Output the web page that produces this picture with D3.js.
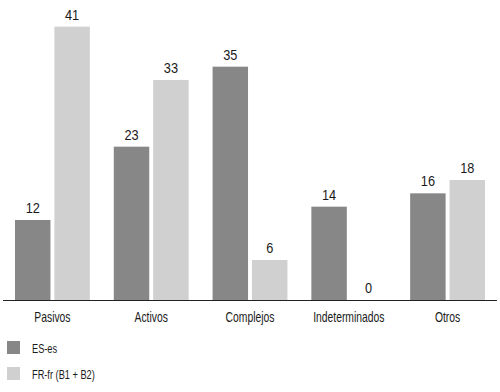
<!DOCTYPE html>
<html><head><meta charset="utf-8">
<script src="https://cdn.jsdelivr.net/npm/d3@7"></script>
<style>body{margin:0;background:#fff}svg{display:block}text{font-family:"Liberation Sans",Arial,sans-serif;fill:#1a1a1a}</style>
</head><body><svg id="c" width="500" height="392"></svg>
<script>
const categories = ["Pasivos","Activos","Complejos","Indeterminados","Otros"];
const seriesNames = ["ES-es","FR-fr (B1 + B2)"];
const esValues = [12,23,35,14,16];
const frValues = [41,33,6,0,18];
const colors = ["#878787","#d0d0d1"];

const svg = d3.select("#c");
const x0 = d3.scaleBand().domain(categories).range([15,485]).paddingInner(0.2424).paddingOuter(0);
const x1 = d3.scaleBand().domain([0,1]).range([0,x0.bandwidth()]).paddingInner(0.1);
const y = d3.scaleLinear().domain([0,45]).range([300,0]);
const series = [esValues, frValues];

function ctext(parent, x, yy, sx, size, anchor, str){
  parent.append("g").attr("transform",`translate(${x},${yy}) scale(${sx},1)`)
    .append("text").attr("text-anchor",anchor).attr("font-size",size).text(str);
}

const g = svg.append("g");
categories.forEach((c,i)=>{
  series.forEach((vals,s)=>{
    const v = vals[i];
    const bx = x0(c)+x1(s);
    g.append("rect").attr("x",bx).attr("y",y(v)).attr("width",x1.bandwidth()).attr("height",y(0)-y(v)).attr("fill",colors[s]);
    ctext(g, bx+x1.bandwidth()/2, y(v)-7, 0.88, 14.5, "middle", v);
  });
});
svg.append("line").attr("x1",3).attr("x2",497).attr("y1",y(0)+0.5).attr("y2",y(0)+0.5).attr("stroke","#222").attr("stroke-width",1.2);
categories.forEach(c=>{
  ctext(svg, x0(c)+x0.bandwidth()/2, 322, 0.74, 14, "middle", c);
});
seriesNames.forEach((n,i)=>{
  const yy = 341 + i*26;
  svg.append("rect").attr("x",7).attr("y",yy).attr("width",13).attr("height",13).attr("fill",colors[i]);
  ctext(svg, 32, yy+11.5, 0.77, 12, "start", n);
});
</script></body></html>
